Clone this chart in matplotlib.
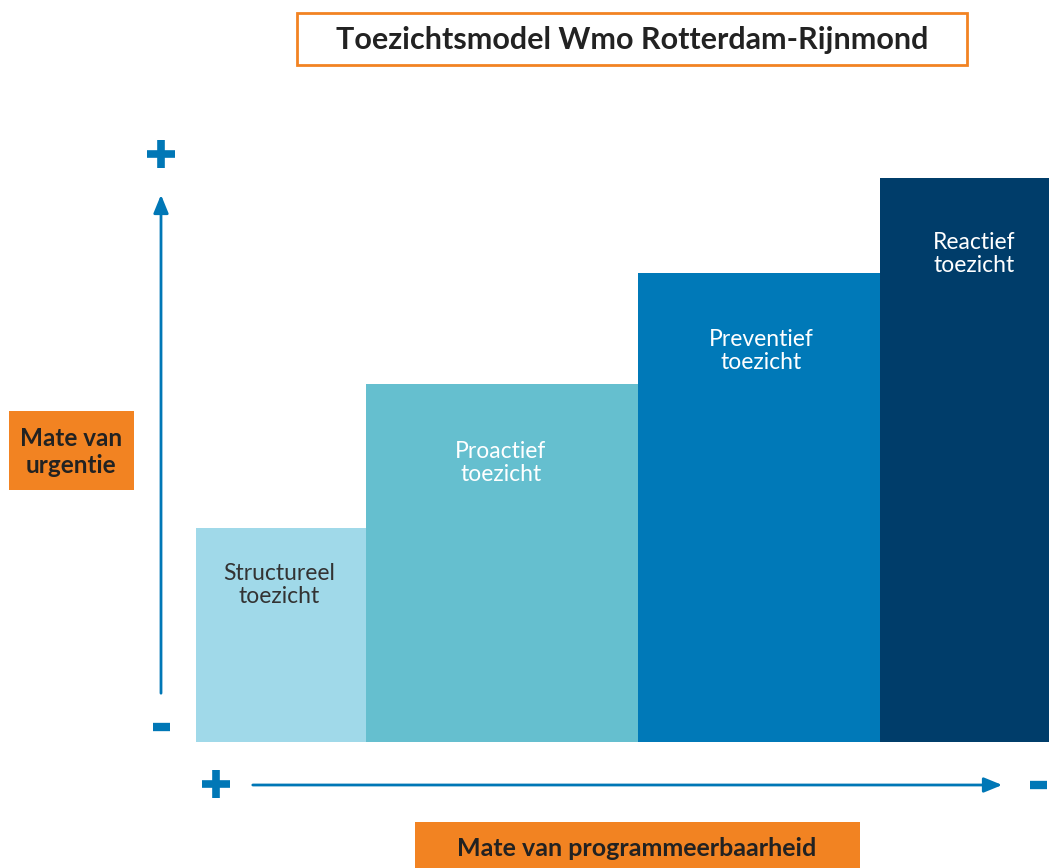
import matplotlib.pyplot as plt
from matplotlib.patches import Rectangle

# data
categories = ["Structureel\ntoezicht", "Proactief\ntoezicht", "Preventief\ntoezicht", "Reactief\ntoezicht"]
widths = [1.70, 2.72, 2.42, 1.69]
heights = [3.80, 6.35, 8.32, 10.0]
bar_colors = ["#a0d9e9", "#65bfcf", "#0079b8", "#003d6a"]
text_colors = ["#333333", "#ffffff", "#ffffff", "#ffffff"]

title = "Toezichtsmodel Wmo Rotterdam-Rijnmond"
y_label = "Mate van\nurgentie"
x_label = "Mate van programmeerbaarheid"

ORANGE = "#f28322"
BLUE = "#0077b6"
W, H = 1049, 868

plt.rcParams["font.family"] = ["Lato", "DejaVu Sans"]

fig = plt.figure(figsize=(W / 100, H / 100), dpi=100)

# bars
ax = fig.add_axes([196 / W, (H - 742) / H, (W - 196) / W, 564 / H])
lefts = [sum(widths[:i]) for i in range(len(widths))]
bars = ax.bar(lefts, heights, width=widths, align="edge", color=bar_colors, linewidth=0)
ax.set_xlim(0, sum(widths))
ax.set_ylim(0, max(heights))
ax.axis("off")

offsets = [(-2, -57), (-1, -79), (2, -78), (10, -76)]
for b, lab, tc, off in zip(bars, categories, text_colors, offsets):
    ax.annotate(lab, (b.get_x() + b.get_width() / 2, b.get_height()),
                xytext=off, textcoords="offset pixels",
                ha="center", va="center", fontsize=16.5,
                color=tc, linespacing=1.1)

# decorations in pixel coords
ov = fig.add_axes([0, 0, 1, 1], zorder=-1)
ov.set_xlim(0, W)
ov.set_ylim(H, 0)
ov.axis("off")

ov.add_patch(Rectangle((297, 13), 670, 52, facecolor="white", edgecolor=ORANGE, linewidth=2))
ov.text(632, 40, title, ha="center", va="center", fontsize=22, fontweight="bold", color="#222222")

ov.add_patch(Rectangle((9, 411), 125, 79, facecolor=ORANGE, edgecolor="none"))
ov.text(71, 452, y_label, ha="center", va="center", fontsize=17.5, fontweight="bold",
        color="#222222", linespacing=1.2)

ov.add_patch(Rectangle((415, 822), 445, 50, facecolor=ORANGE, edgecolor="none"))
ov.text(637, 848, x_label, ha="center", va="center", fontsize=18, fontweight="bold", color="#222222")

# axis arrows
ov.annotate("", xy=(161, 192), xytext=(161, 696),
            arrowprops=dict(arrowstyle="-|>,head_length=1.1,head_width=0.45", color=BLUE, lw=2))
ov.annotate("", xy=(1005, 785), xytext=(250, 785),
            arrowprops=dict(arrowstyle="-|>,head_length=1.1,head_width=0.45", color=BLUE, lw=2))

for x, y in [(161, 154), (216, 784)]:
    ov.plot([x - 14, x + 14], [y, y], color=BLUE, lw=5.5, solid_capstyle="butt")
    ov.plot([x, x], [y - 14, y + 14], color=BLUE, lw=5.5, solid_capstyle="butt")
for x, y in [(161, 727), (1038, 785)]:
    ov.plot([x - 8.5, x + 8.5], [y, y], color=BLUE, lw=6, solid_capstyle="butt")

fig.savefig("out.png", dpi=100)
